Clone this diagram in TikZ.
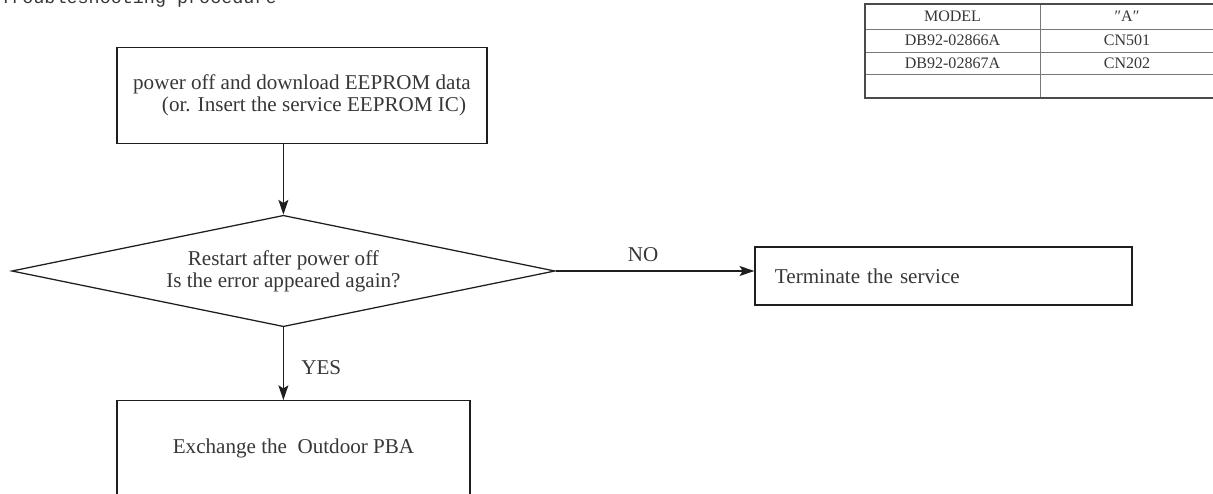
\documentclass[tikz,border=0pt]{standalone}
\usepackage{fontspec}
\setmainfont{Liberation Serif}
\newfontfamily\ttlfont{Liberation Mono}
\usetikzlibrary{arrows.meta,positioning,shapes.geometric}
\definecolor{tsLine}{RGB}{30,30,30}
\definecolor{tsText}{RGB}{55,55,55}
\definecolor{tsGrid}{RGB}{120,120,120}
\newcommand{\flowfont}{\fontsize{15}{15.6}\selectfont}
\newcommand{\tabfont}{\fontsize{11.4}{12}\selectfont}

\begin{document}
\begin{tikzpicture}[x=0.025cm,y=-0.025cm,font=\flowfont,text=tsText,
    box/.style={draw=tsLine,line width=0.9pt,inner sep=0pt,align=center},
    dec/.style={draw=tsLine,line width=0.9pt,diamond,aspect=4.88,inner sep=0pt,align=center},
    flow/.style={-{Stealth[length=0.37cm,width=0.25cm,inset=0.08cm]},line width=0.9pt,draw=tsLine},
    cell/.style={font=\tabfont,inner sep=0pt}]
    \useasboundingbox (0,0) rectangle (1213,494);
    % Title (cut at the top edge)
    \node[anchor=base west,font=\ttlfont\fontsize{13.1}{14}\selectfont,inner sep=0pt] (title) at (0,3.5) {Troubleshooting procedure};
    % Table
    \draw[tsGrid,line width=0.7pt] (865,29) -- (1214,29) (865,52) -- (1214,52) (865,74) -- (1214,74) (1040,4) -- (1040,98);
    \draw[tsLine!80,line width=1.3pt] (865,4) rectangle (1214,98);
    \node[cell] (hModel) at (952.5,16.5) {MODEL};
    \node[cell] (hA) at (1127,16.5) {″A″};
    \node[cell] (m1) at (952.5,40.5) {DB92-02866A};
    \node[cell] (c1) at (1127,40.5) {CN501};
    \node[cell] (m2) at (952.5,63) {DB92-02867A};
    \node[cell] (c2) at (1127,63) {CN202};
    % Nodes
    \node[box,minimum width=9.25cm,minimum height=2.39cm,align=left] (eeprom) at (302,95.5) {power off and download EEPROM data\\\hspace*{0.72cm}(or. Insert the service EEPROM IC)};
    \node[dec,minimum width=13.58cm,minimum height=2.785cm] (check) at (283.4,271) {Restart after power off\\Is the error appeared again?};
    \node[box,minimum height=1.45cm,text width=8.425cm,inner xsep=0.5cm,align=left] (term) at (943.5,276) {Terminate the service};
    \node[box,minimum width=8.825cm,minimum height=2.4cm] (exch) at (293.5,448.7) {Exchange the\ \ Outdoor PBA};
    % Arrows
    \draw[flow] (check.north |- eeprom.south) -- (check.north);
    \draw[flow] (check.east) -- node[pos=0.44,above=3pt] {NO} (check.east -| term.west);
    \draw[flow] (check.south) -- node[right=9pt,pos=0.55] {YES} (check.south |- exch.north);
\end{tikzpicture}
\end{document}
